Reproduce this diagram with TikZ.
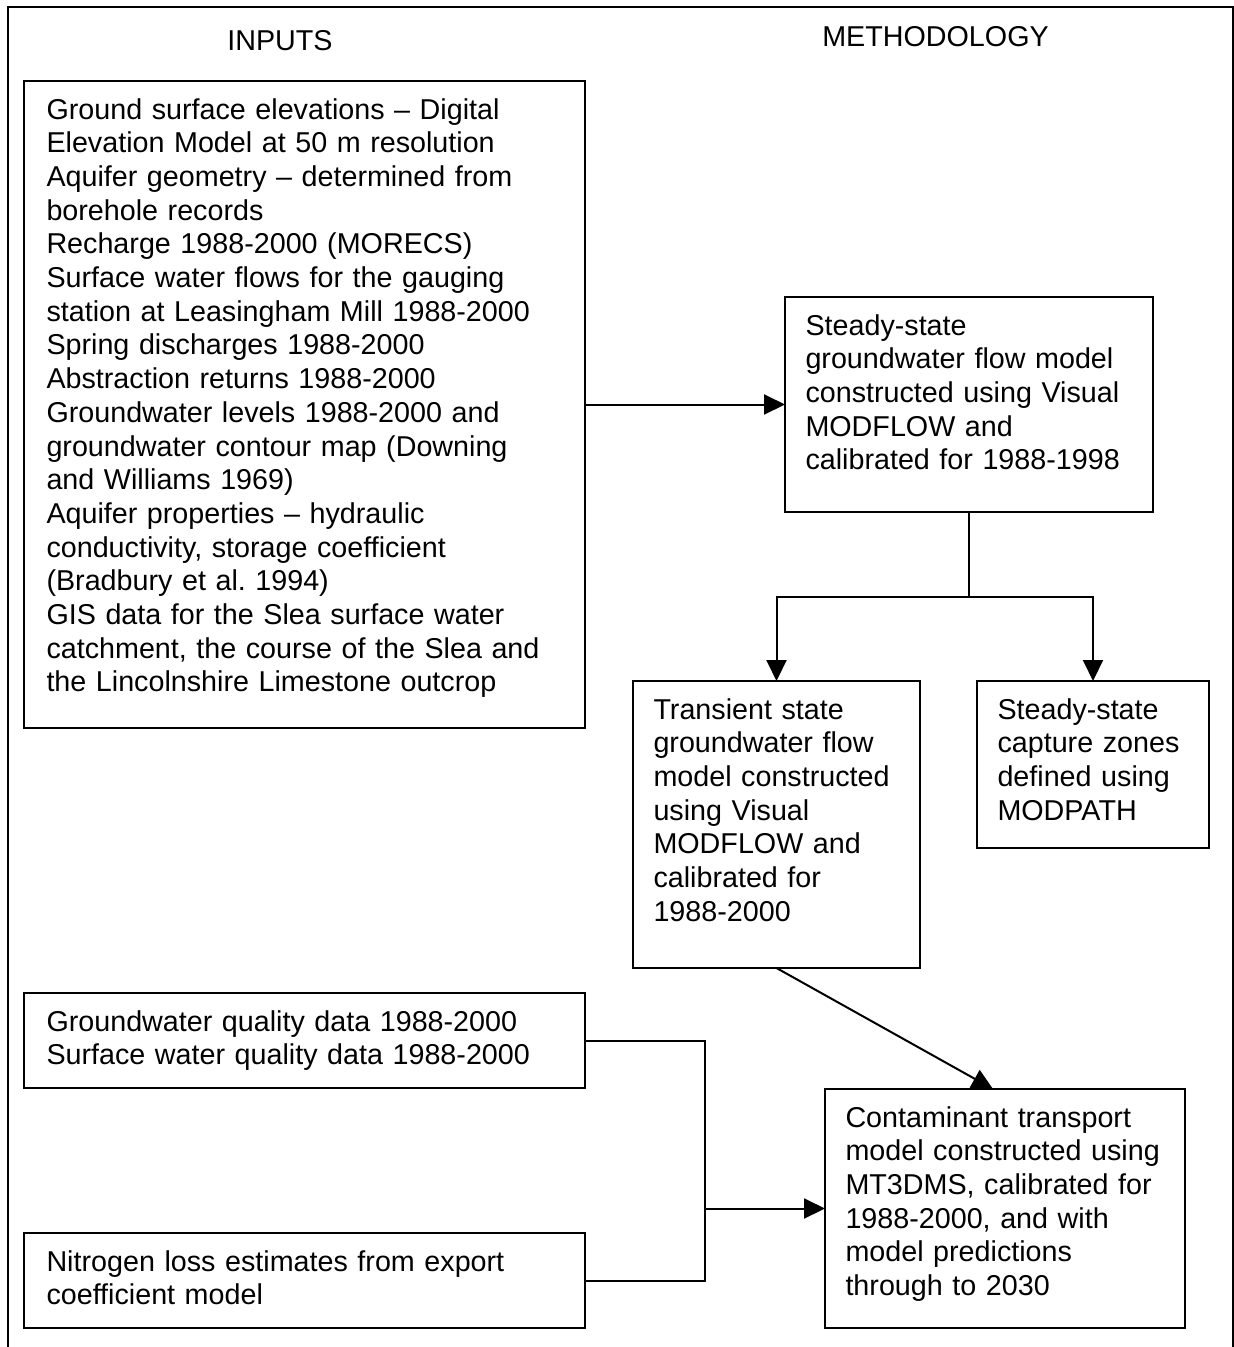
\documentclass[tikz,border=0pt]{standalone}
\usepackage{fontspec}
\setmainfont{Liberation Sans}
\usetikzlibrary{arrows.meta,calc}
\frenchspacing
\begin{document}
\begin{tikzpicture}[x=1pt,y=-1pt,line width=2pt,
  box/.style={draw,rectangle,inner sep=0pt,outer sep=0pt},
  txt/.style={anchor=base west,inner sep=0pt,align=left,font=\fontsize{28.7}{33.7}\selectfont\frenchspacing},
  head/.style={anchor=base,inner sep=0pt,font=\fontsize{28.7}{33.7}\selectfont},
  arr/.style={-{Triangle[length=21pt,width=20pt]}}]
\useasboundingbox (0,0) rectangle (1234,1347);
\draw (8,1347) -- (8,7) -- (1233,7) -- (1233,1347);
\node[head] (hin) at (280,50) {INPUTS};
\node[head] (hme) at (935.5,46) {METHODOLOGY};
% boxes
\node[box,minimum width=561pt,minimum height=647pt] (b1) at (304.5,404.5) {};
\node[box,minimum width=368pt,minimum height=215pt] (b2) at (969,404.5) {};
\node[box,minimum width=287pt,minimum height=287pt] (b3) at (776.5,824.5) {};
\node[box,minimum width=232pt,minimum height=167pt] (b4) at (1093,764.5) {};
\node[box,minimum width=561pt,minimum height=95pt] (b5) at (304.5,1040.5) {};
\node[box,minimum width=561pt,minimum height=95pt] (b6) at (304.5,1280.5) {};
\node[box,minimum width=360pt,minimum height=239pt] (b7) at (1005,1208.5) {};
% texts
\node[txt,text width=540pt] (t1) at ($(b1.north west)+(21.5,38)$) {Ground surface elevations – Digital\\
Elevation Model at 50 m resolution\\
Aquifer geometry – determined from\\
borehole records\\
Recharge 1988-2000 (MORECS)\\
Surface water flows for the gauging\\
station at Leasingham Mill 1988-2000\\
Spring discharges 1988-2000\\
Abstraction returns 1988-2000\\
Groundwater levels 1988-2000 and\\
groundwater contour map (Downing\\
and Williams 1969)\\
Aquifer properties – hydraulic\\
conductivity, storage coefficient\\
(Bradbury et al. 1994)\\
GIS data for the Slea surface water\\
catchment, the course of the Slea and\\
the Lincolnshire Limestone outcrop};
\node[txt,text width=345pt] (t2) at ($(b2.north west)+(19.5,38)$) {Steady-state\\
groundwater flow model\\
constructed using Visual\\
MODFLOW and\\
calibrated for 1988-1998};
\node[txt,text width=265pt] (t3) at ($(b3.north west)+(19.5,38)$) {Transient state\\
groundwater flow\\
model constructed\\
using Visual\\
MODFLOW and\\
calibrated for\\
1988-2000};
\node[txt,text width=210pt] (t4) at ($(b4.north west)+(19.5,38)$) {Steady-state\\
capture zones\\
defined using\\
MODPATH};
\node[txt,text width=540pt] (t5) at ($(b5.north west)+(21.5,38)$) {Groundwater quality data 1988-2000\\
Surface water quality data 1988-2000};
\node[txt,text width=540pt] (t6) at ($(b6.north west)+(21.5,38)$) {Nitrogen loss estimates from export\\
coefficient model};
\node[txt,text width=340pt] (t7) at ($(b7.north west)+(19.5,38)$) {Contaminant transport\\
model constructed using\\
MT3DMS, calibrated for\\
1988-2000, and with\\
model predictions\\
through to 2030};
% connectors
\coordinate (j1) at (969,597);
\coordinate (j2) at (705,1208.5);
\coordinate (d7) at (993,1089);
\draw[arr] (b1.east) -- (b2.west);
\draw (b2.south) -- (j1);
\draw[arr] (j1) -| (b3.north);
\draw[arr] (j1) -| (b4.north);
\draw[arr] (b3.south) -- (d7);
\draw (b5.east) -| (j2) |- (b6.east);
\draw[arr] (j2) -- (b7.west);
\end{tikzpicture}
\end{document}
